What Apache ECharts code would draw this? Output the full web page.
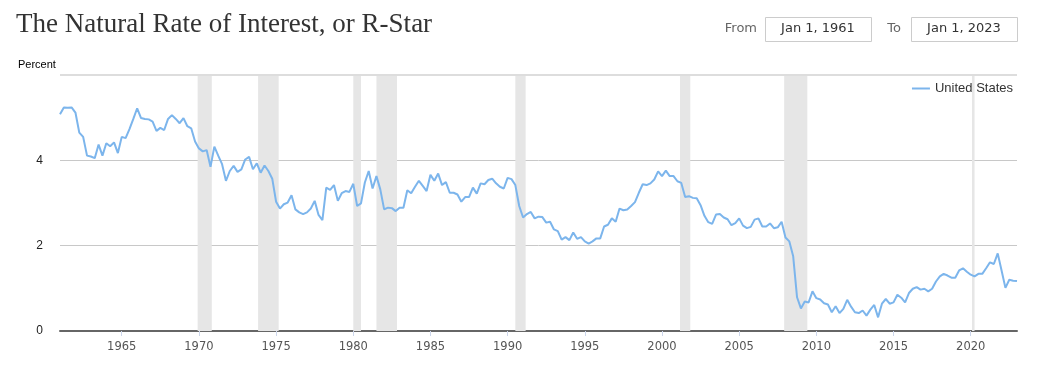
<!DOCTYPE html>
<html>
<head>
<meta charset="utf-8">
<script src="https://cdn.jsdelivr.net/npm/echarts@6/dist/echarts.min.js"></script>
<style>
html,body{margin:0;padding:0;background:#fff;}
#chart{width:1042px;height:367px;}
</style>
</head>
<body>
<div id="chart"></div>
<script>
// Quarterly R-Star estimates, United States, starting 1961Q1
const startYear = 1961;
const rstar1960s = [5.08, 5.24, 5.23, 5.24, 5.12, 4.65, 4.55, 4.11, 4.09, 4.05, 4.37, 4.11, 4.40, 4.33, 4.42, 4.17, 4.55, 4.52, 4.73, 4.97, 5.22, 4.99, 4.97, 4.96, 4.91, 4.69, 4.76, 4.71, 4.97, 5.06, 4.97, 4.87, 4.99, 4.80, 4.75, 4.44];
const rstar1970s = [4.28, 4.21, 4.24, 3.85, 4.32, 4.11, 3.91, 3.52, 3.75, 3.87, 3.73, 3.79, 4.02, 4.08, 3.79, 3.93, 3.71, 3.88, 3.75, 3.57, 3.03, 2.87, 2.97, 3.01, 3.18, 2.85, 2.78, 2.74, 2.78, 2.87, 3.05, 2.72, 2.60, 3.36, 3.31, 3.42, 3.05, 3.23, 3.28, 3.26];
const rstar1980s = [3.45, 2.93, 2.99, 3.48, 3.75, 3.34, 3.63, 3.32, 2.85, 2.89, 2.88, 2.81, 2.89, 2.89, 3.30, 3.23, 3.38, 3.52, 3.40, 3.28, 3.66, 3.52, 3.69, 3.42, 3.49, 3.24, 3.24, 3.20, 3.03, 3.14, 3.14, 3.36, 3.22, 3.46, 3.44, 3.54, 3.57, 3.46, 3.38, 3.34];
const rstar1990s = [3.59, 3.56, 3.42, 2.93, 2.66, 2.74, 2.79, 2.64, 2.68, 2.67, 2.54, 2.56, 2.38, 2.34, 2.14, 2.20, 2.13, 2.31, 2.16, 2.20, 2.10, 2.05, 2.10, 2.17, 2.17, 2.45, 2.49, 2.64, 2.56, 2.87, 2.83, 2.85, 2.93, 3.02, 3.24, 3.44, 3.42, 3.46, 3.55, 3.74];
const rstar2000s = [3.63, 3.76, 3.63, 3.63, 3.51, 3.47, 3.14, 3.16, 3.12, 3.11, 2.95, 2.70, 2.55, 2.51, 2.73, 2.74, 2.66, 2.62, 2.48, 2.53, 2.64, 2.47, 2.41, 2.44, 2.61, 2.64, 2.45, 2.45, 2.52, 2.41, 2.43, 2.56, 2.19, 2.10, 1.75, 0.79, 0.53, 0.69, 0.67, 0.93];
const rstar2010s = [0.77, 0.74, 0.65, 0.62, 0.44, 0.58, 0.42, 0.52, 0.73, 0.57, 0.44, 0.42, 0.48, 0.36, 0.50, 0.61, 0.32, 0.64, 0.75, 0.64, 0.67, 0.85, 0.78, 0.67, 0.89, 0.99, 1.03, 0.97, 0.99, 0.93, 0.99, 1.16, 1.28, 1.34, 1.30, 1.25, 1.25, 1.42, 1.47, 1.39];
const rstar2020s = [1.32, 1.28, 1.34, 1.34, 1.47, 1.61, 1.57, 1.82, 1.42, 1.01, 1.20, 1.18, 1.17];

// NBER recessions (decimal years: start, end)
const recessions = [
  [1969.917, 1970.833],
  [1973.833, 1975.167],
  [1980.0, 1980.5],
  [1981.5, 1982.833],
  [1990.5, 1991.167],
  [2001.167, 2001.833],
  [2007.917, 2009.417],
  [2020.083, 2020.25]
];

const xTickYears = [1965, 1970, 1975, 1980, 1985, 1990, 1995, 2000, 2005, 2010, 2015, 2020];
const yMin = 0, yMax = 6, yStep = 2;
const xMin = 1961, xMax = 2023;
const seriesName = 'United States';
const titleText = 'The Natural Rate of Interest, or R-Star';
const fromText = 'Jan 1, 1961';
const toText = 'Jan 1, 2023';

const values = [].concat(rstar1960s, rstar1970s, rstar1980s, rstar1990s, rstar2000s, rstar2010s, rstar2020s);
const data = values.map((v, i) => [startYear + i / 4, v]);

const chart = echarts.init(document.getElementById('chart'), null, {renderer: 'canvas'});
chart.setOption({
  animation: false,
  backgroundColor: '#fff',
  title: {
    text: titleText,
    left: 16,
    top: 11,
    padding: 0,
    textStyle: {fontFamily: 'Liberation Serif', fontSize: 27, fontWeight: 'normal', color: '#333'}
  },
  legend: {
    right: 24,
    top: 77,
    icon: 'rect',
    itemWidth: 18,
    itemHeight: 2,
    textStyle: {fontFamily: 'Liberation Sans', fontSize: 13, color: '#333'},
    data: [seriesName]
  },
  grid: {left: 60, right: 25, top: 75, bottom: 36, containLabel: false},
  xAxis: {
    type: 'value',
    min: xMin,
    max: xMax,
    splitLine: {show: false},
    axisLine: {lineStyle: {color: '#666', width: 2}},
    axisTick: {show: true, customValues: xTickYears, length: 5, lineStyle: {color: '#ccd6eb'}},
    axisLabel: {
      customValues: xTickYears,
      formatter: v => String(Math.round(v)),
      margin: 10,
      fontFamily: 'DejaVu Sans',
      fontSize: 11.5,
      color: '#555'
    }
  },
  yAxis: {
    type: 'value',
    min: yMin,
    max: yMax,
    interval: yStep,
    axisLine: {show: false},
    axisTick: {show: false},
    axisLabel: {
      formatter: v => (v === yMax ? '' : String(v)),
      margin: 17,
      fontFamily: 'Liberation Sans',
      fontSize: 12,
      color: '#222'
    },
    splitLine: {lineStyle: {color: ['#c8c8c8', '#c8c8c8', '#c8c8c8', '#dddddd'], width: 1}}
  },
  graphic: [
    {type: 'text', x: 18, y: 65, style: {text: 'Percent', fill: '#000', font: '11px "Liberation Sans"', textVerticalAlign: 'middle'}},
    {type: 'text', x: 757, y: 29, style: {text: 'From', fill: '#666', font: '13px "DejaVu Sans"', textAlign: 'right', textVerticalAlign: 'middle'}},
    {type: 'rect', shape: {x: 765.5, y: 17.5, width: 106, height: 24}, style: {fill: '#fff', stroke: '#cccccc', lineWidth: 1}},
    {type: 'text', x: 818, y: 29, style: {text: fromText, fill: '#333', font: '13px "DejaVu Sans"', textAlign: 'center', textVerticalAlign: 'middle'}},
    {type: 'text', x: 901, y: 29, style: {text: 'To', fill: '#666', font: '13px "DejaVu Sans"', textAlign: 'right', textVerticalAlign: 'middle'}},
    {type: 'rect', shape: {x: 911.5, y: 17.5, width: 106, height: 24}, style: {fill: '#fff', stroke: '#cccccc', lineWidth: 1}},
    {type: 'text', x: 964, y: 29, style: {text: toText, fill: '#333', font: '13px "DejaVu Sans"', textAlign: 'center', textVerticalAlign: 'middle'}}
  ],
  series: [{
    name: seriesName,
    type: 'line',
    data: data,
    showSymbol: false,
    symbol: 'none',
    lineStyle: {color: '#7cb5ec', width: 2},
    itemStyle: {color: '#7cb5ec'},
    z: 5,
    markArea: {
      silent: true,
      itemStyle: {color: '#e6e6e6'},
      data: recessions.map(r => [{xAxis: r[0]}, {xAxis: r[1]}])
    },
    markLine: {
      silent: true,
      symbol: 'none',
      label: {show: false},
      lineStyle: {color: '#dddddd', width: 2, type: 'solid'},
      data: [{yAxis: yMax}]
    }
  }]
});
</script>
</body>
</html>
